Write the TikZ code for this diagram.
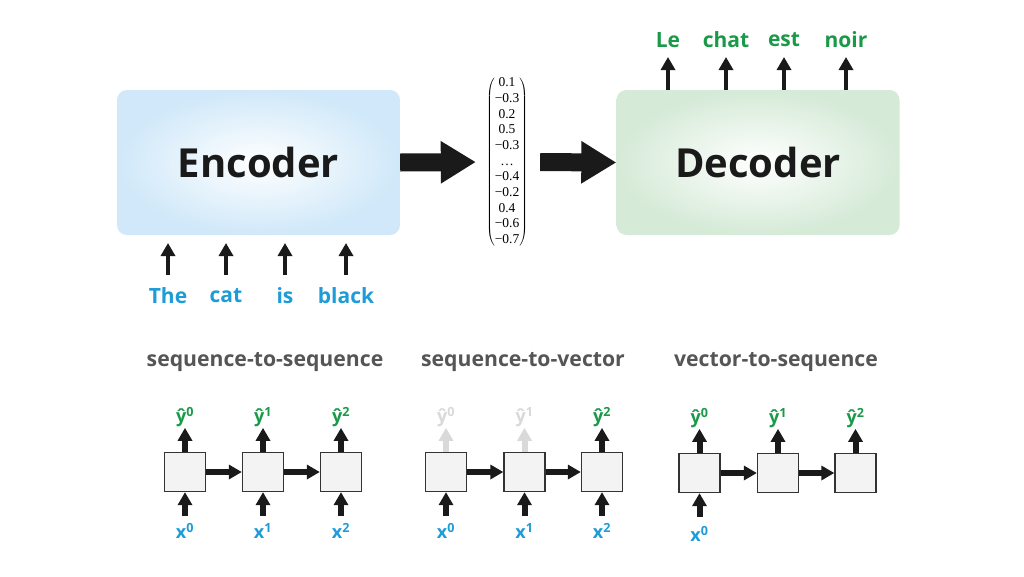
\documentclass[tikz,border=0pt]{standalone}
\usepackage[no-math]{fontspec}
\setmainfont{Open Sans}
\newfontfamily\vecfont{Liberation Serif}
\usetikzlibrary{arrows.meta,calc}
\definecolor{encblue}{HTML}{D0E8F9}
\definecolor{decgreen}{HTML}{D5EAD7}
\definecolor{txtblue}{HTML}{1E9CD7}
\definecolor{txtgreen}{HTML}{1A9A48}
\definecolor{titlegray}{HTML}{555555}
\definecolor{ghost}{HTML}{D9D9D9}
\definecolor{cellfill}{HTML}{F3F3F3}
\definecolor{cellline}{HTML}{333333}
\definecolor{ink}{HTML}{1A1A1A}
\begin{document}
\begin{tikzpicture}[x=1pt,y=-1pt,
  bigbox/.style={rounded corners=10pt, minimum width=283pt, minimum height=145pt, inner sep=0pt,
    font=\fontsize{40}{48}\selectfont\bfseries, text=ink},
  encbox/.style={bigbox, inner color=white, outer color=encblue},
  decbox/.style={bigbox, inner color=white, outer color=decgreen},
  bigarrow/.style={line width=18pt, draw=ink, -{Triangle[length=35pt,width=40pt]}},
  tokarrow/.style={line width=4.5pt, draw=ink, -{Triangle[length=13pt,width=14pt]}},
  inword/.style={font=\fontsize{21}{25}\selectfont\bfseries, text=txtblue, inner sep=0pt},
  outword/.style={font=\fontsize{21}{25}\selectfont\bfseries, text=txtgreen, inner sep=0pt},
  title/.style={font=\fontsize{21.2}{25}\selectfont\bfseries, text=titlegray, inner sep=0pt},
  cell/.style={draw=cellline, line width=1.3pt, fill=cellfill, minimum width=41pt, minimum height=39pt, inner sep=0pt},
  cellarrow/.style={line width=6pt, draw=ink, -{Triangle[length=13pt,width=14pt]}},
  ghostarrow/.style={cellarrow, draw=ghost},
  xlab/.style={font=\fontsize{18}{22}\selectfont\bfseries, text=txtblue, inner sep=0pt},
  ylab/.style={font=\fontsize{18}{22}\selectfont\bfseries, text=txtgreen, inner sep=0pt},
  ghostlab/.style={ylab, text=ghost}
]
\useasboundingbox[fill=white] (0,0) rectangle (1024,576);

% ---- encoder / vector / decoder ----
\node[encbox] (enc) at (258.5,162.5) {Encoder};
\node[decbox] (dec) at (758,162.5) {Decoder};
\node[inner sep=0pt] (vec) at (507,162)
  {$\left(\vcenter{\hbox{\vecfont\fontsize{13.5}{15.7}\selectfont
    \begin{tabular}{@{}c@{}}
    0.1\\ −0.3\\ 0.2\\ 0.5\\ −0.3\\ …\\ −0.4\\ −0.2\\ 0.4\\ −0.6\\ −0.7
  \end{tabular}}}\right)$};
\draw[bigarrow, shorten >=10pt] (enc.east) -- (vec.west);
\draw[bigarrow, shorten <=12pt] (vec.east) -- (dec.west);

% input tokens
\node[inword] (w1) at (168,296) {The};
\node[inword] (w2) at (226,296) {cat};
\node[inword] (w3) at (285,296) {is};
\node[inword] (w4) at (346,296) {black};
\foreach \i/\x in {1/168,2/226,3/285,4/346}{
  \coordinate (ia\i) at (\x,275);
  \coordinate (ib\i) at (\x,243);
  \draw[tokarrow] (ia\i) -- (ib\i);
}

% output tokens
\node[outword] (o1) at (668,40) {Le};
\node[outword] (o2) at (726,40) {chat};
\node[outword] (o3) at (784,40) {est};
\node[outword] (o4) at (846,40) {noir};
\foreach \i/\x in {1/668,2/726,3/784,4/846}{
  \coordinate (ot\i) at (\x,57);
  \draw[tokarrow] (dec.north -| ot\i) -- (ot\i);
}

% ---- titles ----
\node[title] (t1) at (265,362) {sequence-to-sequence};
\node[title] (t2) at (523,362) {sequence-to-vector};
\node[title] (t3) at (776,362) {vector-to-sequence};

% ---- sequence-to-sequence ----
\node[cell] (a1) at (185,472) {};
\node[cell] (a2) at (263,472) {};
\node[cell] (a3) at (341,472) {};
\draw[cellarrow] (a1.east) -- (a2.west);
\draw[cellarrow] (a2.east) -- (a3.west);
\foreach \n/\k in {a1/0,a2/1,a3/2}{
  \draw[cellarrow] (\n.north) -- ++(0,-24);
  \draw[cellarrow] (\n.south) ++(0,24) -- (\n.south);
  \node[ylab] at ($(\n.north)+(0,-35)$) {ŷ\textsuperscript{\k}};
  \node[xlab] at ($(\n.south)+(0,39)$) {x\textsuperscript{\k}};
}

% ---- sequence-to-vector ----
\node[cell] (b1) at (446,472) {};
\node[cell] (b2) at (524.5,472) {};
\node[cell] (b3) at (602,472) {};
\draw[cellarrow] (b1.east) -- (b2.west);
\draw[cellarrow] (b2.east) -- (b3.west);
\foreach \n/\k in {b1/0,b2/1}{
  \draw[ghostarrow] (\n.north) -- ++(0,-24);
  \node[ghostlab] at ($(\n.north)+(0,-35)$) {ŷ\textsuperscript{\k}};
}
\draw[cellarrow] (b3.north) -- ++(0,-24);
\node[ylab] at ($(b3.north)+(0,-35)$) {ŷ\textsuperscript{2}};
\foreach \n/\k in {b1/0,b2/1,b3/2}{
  \draw[cellarrow] (\n.south) ++(0,24) -- (\n.south);
  \node[xlab] at ($(\n.south)+(0,39)$) {x\textsuperscript{\k}};
}

% ---- vector-to-sequence ----
\node[cell] (c1) at (699.5,473) {};
\node[cell] (c2) at (778,473) {};
\node[cell] (c3) at (855.5,473) {};
\draw[cellarrow] (c1.east) -- (c2.west);
\draw[cellarrow] (c2.east) -- (c3.west);
\foreach \n/\k in {c1/0,c2/1,c3/2}{
  \draw[cellarrow] (\n.north) -- ++(0,-24);
  \node[ylab] at ($(\n.north)+(0,-35)$) {ŷ\textsuperscript{\k}};
}
\draw[cellarrow] (c1.south) ++(0,24) -- (c1.south);
\node[xlab] at ($(c1.south)+(0,41)$) {x\textsuperscript{0}};
\end{tikzpicture}
\end{document}
